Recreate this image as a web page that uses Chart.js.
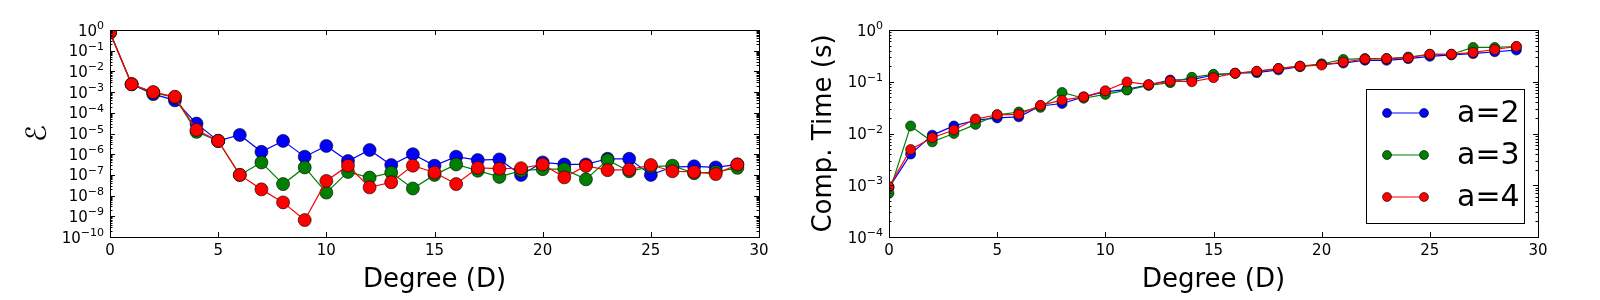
<!DOCTYPE html>
<html>
<head>
<meta charset="utf-8">
<script src="https://cdn.jsdelivr.net/npm/chart.js@4.4.0/dist/chart.umd.min.js"></script>
<style>
  html, body { margin: 0; padding: 0; background: #fff; }
  body { width: 1600px; height: 300px; position: relative; overflow: hidden; }
  .box { position: absolute; top: 0; height: 300px; }
  #left { left: 0; width: 780px; }
  #right { left: 780px; width: 820px; }
</style>
</head>
<body>
<div class="box" id="left"><canvas id="errChart"></canvas></div>
<div class="box" id="right"><canvas id="timeChart"></canvas></div>
<script>
// grau do polinômio (eixo x)
const degree = [0, 1, 2, 3, 4, 5, 6, 7, 8, 9, 10, 11, 12, 13, 14, 15, 16, 17, 18, 19, 20, 21, 22, 23, 24, 25, 26, 27, 28, 29];
const seriesNames = ['a=2', 'a=3', 'a=4'];
const seriesColors = ['#0000ff', '#008000', '#ff0000'];

// erro (gráfico da esquerda)
const errA2 = [0.77, 2.4e-3, 8e-4, 4e-4, 3e-5, 4.4e-6, 8.5e-6, 1.3e-6, 4.4e-6, 7.6e-7, 2.5e-6, 4.7e-7, 1.6e-6, 3e-7, 1.0e-6, 2.8e-7, 7.6e-7, 5.2e-7, 5.6e-7, 1.0e-7, 4e-7, 3.2e-7, 3.2e-7, 6e-7, 6e-7, 1.0e-7, 2.4e-7, 2.6e-7, 2.3e-7, 3.2e-7];
const errA3 = [0.75, 2.4e-3, 9.5e-4, 5.6e-4, 1.2e-5, 4.4e-6, 1e-7, 4e-7, 3.6e-8, 2.3e-7, 1.4e-8, 1.4e-7, 7.4e-8, 1.3e-7, 2.2e-8, 1.0e-7, 3.2e-7, 1.6e-7, 8e-8, 1.6e-7, 1.9e-7, 1.9e-7, 6.1e-8, 5.2e-7, 1.5e-7, 2.5e-7, 2.8e-7, 1.2e-7, 1.4e-7, 2.2e-7];
const errA4 = [0.77, 2.4e-3, 1.0e-3, 6e-4, 1.5e-5, 4.4e-6, 1e-7, 2e-8, 4.7e-9, 6.6e-10, 5.1e-8, 2.8e-7, 2.5e-8, 4.4e-8, 2.8e-7, 1.3e-7, 3.6e-8, 2.2e-7, 2e-7, 2.1e-7, 3.2e-7, 7.6e-8, 2.7e-7, 1.7e-7, 1.8e-7, 3e-7, 1.5e-7, 1.4e-7, 1.1e-7, 3.2e-7];

// tempo de computação (gráfico da direita)
const timeA2 = [9e-4, 4e-3, 9.3e-3, 1.4e-2, 1.8e-2, 2.0e-2, 2.1e-2, 3.4e-2, 3.8e-2, 5.1e-2, 6.4e-2, 7.1e-2, 8.7e-2, 0.108, 0.11, 0.135, 0.146, 0.15, 0.17, 0.195, 0.22, 0.23, 0.26, 0.26, 0.28, 0.31, 0.33, 0.35, 0.38, 0.41];
const timeA3 = [7e-4, 1.4e-2, 6.9e-3, 1e-2, 1.5e-2, 2.3e-2, 2.6e-2, 3.2e-2, 6.2e-2, 4.8e-2, 5.7e-2, 6.9e-2, 8.5e-2, 0.096, 0.122, 0.139, 0.146, 0.157, 0.18, 0.2, 0.22, 0.27, 0.28, 0.28, 0.3, 0.34, 0.34, 0.46, 0.46, 0.48];
const timeA4 = [9.4e-4, 4.9e-3, 8.3e-3, 1.17e-2, 1.9e-2, 2.3e-2, 2.35e-2, 3.5e-2, 4.4e-2, 5.1e-2, 6.7e-2, 0.099, 0.088, 0.103, 0.1, 0.12, 0.146, 0.16, 0.18, 0.2, 0.21, 0.24, 0.275, 0.28, 0.29, 0.34, 0.34, 0.37, 0.42, 0.48];

const xTicks = [0, 5, 10, 15, 20, 25, 30];

Chart.defaults.font.family = "'DejaVu Sans', sans-serif";
Chart.defaults.color = '#000';

function makeDatasets(values, radius) {
    return values.map((vals, i) => ({
        label: seriesNames[i],
        data: degree.map((d, j) => ({ x: d, y: vals[j] })),
        order: values.length - i,
        borderColor: seriesColors[i],
        backgroundColor: seriesColors[i],
        pointBackgroundColor: seriesColors[i],
        pointBorderColor: '#000',
        pointBorderWidth: 0.6,
        pointRadius: radius,
        borderWidth: 1.2,
        tension: 0
    }));
}

// moldura, marcas para dentro e rótulos 10^n, estilo matplotlib
const frameTicks = {
    id: 'frameTicks',
    afterDatasetsDraw(chart) {
        const { ctx, chartArea: a, scales } = chart;
        ctx.save();
        ctx.strokeStyle = '#000';
        ctx.lineWidth = 1;
        ctx.beginPath();
        xTicks.forEach(v => {
            const px = Math.round(scales.x.getPixelForValue(v)) + 0.5;
            ctx.moveTo(px, a.bottom); ctx.lineTo(px, a.bottom - 5);
            ctx.moveTo(px, a.top); ctx.lineTo(px, a.top + 5);
        });
        const lo = Math.round(Math.log10(scales.y.min));
        const hi = Math.round(Math.log10(scales.y.max));
        for (let e = lo; e <= hi; e++) {
            const py = Math.round(scales.y.getPixelForValue(Math.pow(10, e))) + 0.5;
            ctx.moveTo(a.left, py); ctx.lineTo(a.left + 5, py);
            ctx.moveTo(a.right, py); ctx.lineTo(a.right - 5, py);
            if (e === hi) continue;
            for (let k = 2; k <= 9; k++) {
                const my = Math.round(scales.y.getPixelForValue(k * Math.pow(10, e))) + 0.5;
                ctx.moveTo(a.left, my); ctx.lineTo(a.left + 2.5, my);
                ctx.moveTo(a.right, my); ctx.lineTo(a.right - 2.5, my);
            }
        }
        ctx.stroke();
        ctx.strokeRect(Math.round(a.left) + 0.5, Math.round(a.top) + 0.5, Math.round(a.right - a.left), Math.round(a.bottom - a.top));

        // rótulos do eixo y: base "10" e expoente menor, elevado
        ctx.fillStyle = '#000';
        ctx.textBaseline = 'alphabetic';
        ctx.textAlign = 'left';
        for (let e = lo; e <= hi; e++) {
            const py = scales.y.getPixelForValue(Math.pow(10, e));
            const expText = String(e).replace('-', '\u2212');
            ctx.font = "11px 'DejaVu Sans'";
            const ew = ctx.measureText(expText).width;
            ctx.font = "15px 'DejaVu Sans'";
            const bw = ctx.measureText('10').width;
            const right = a.left - 6;
            ctx.fillText('10', right - ew - bw, py + 5.5);
            ctx.font = "11px 'DejaVu Sans'";
            ctx.fillText(expText, right - ew, py - 1);
        }
        ctx.restore();
    }
};

// legenda com linha e dois marcadores
const markerLegend = {
    id: 'markerLegend',
    afterDraw(chart) {
        const { ctx } = chart;
        const bx = 586, by = 89, bw = 158, bh = 134;
        ctx.save();
        ctx.fillStyle = '#fff';
        ctx.fillRect(bx, by, bw, bh);
        ctx.strokeStyle = '#000';
        ctx.lineWidth = 1;
        ctx.strokeRect(bx + 0.5, by + 0.5, bw, bh);
        const rows = [113, 155, 197];
        chart.data.datasets.forEach((ds, i) => {
            const y = rows[i];
            ctx.strokeStyle = ds.borderColor;
            ctx.lineWidth = 1.2;
            ctx.beginPath();
            ctx.moveTo(607, y); ctx.lineTo(644, y);
            ctx.stroke();
            [607, 644].forEach(mx => {
                ctx.beginPath();
                ctx.arc(mx, y, 4.5, 0, Math.PI * 2);
                ctx.fillStyle = ds.borderColor;
                ctx.fill();
                ctx.strokeStyle = '#000';
                ctx.lineWidth = 0.6;
                ctx.stroke();
            });
            ctx.fillStyle = '#000';
            ctx.font = "30px 'DejaVu Sans'";
            ctx.textBaseline = 'middle';
            ctx.textAlign = 'left';
            ctx.fillText(ds.label, 677, y + 1);
        });
        ctx.restore();
    }
};

function makeOptions(yMin, yMax, yTitle, yTitleSize, yTitlePad, yWidth, rightPad) {
    return {
        responsive: true,
        maintainAspectRatio: false,
        animation: false,
        layout: { padding: { top: 30, right: rightPad, left: 0, bottom: 0 } },
        plugins: { legend: { display: false }, tooltip: { enabled: false } },
        scales: {
            x: {
                type: 'linear',
                min: 0,
                max: 30,
                afterBuildTicks: scale => { scale.ticks = xTicks.map(v => ({ value: v })); },
                afterFit: scale => { scale.height = 63; },
                grid: { display: false, drawTicks: false },
                border: { display: false },
                ticks: { font: { size: 15 }, padding: 5, maxRotation: 0, autoSkip: false },
                title: { display: true, text: 'Degree (D)', font: { size: 26 }, padding: { top: 0, bottom: 4 } }
            },
            y: {
                type: 'logarithmic',
                min: yMin,
                max: yMax,
                afterBuildTicks: scale => {
                    const t = [];
                    for (let e = Math.round(Math.log10(yMin)); e <= Math.round(Math.log10(yMax)); e++) t.push({ value: Math.pow(10, e) });
                    scale.ticks = t;
                },
                afterFit: scale => { scale.width = yWidth; },
                grid: { display: false, drawTicks: false },
                border: { display: false },
                ticks: { display: false },
                title: { display: true, text: yTitle, font: { size: yTitleSize }, padding: { top: yTitlePad, bottom: 0 } }
            }
        }
    };
}

const errCtx = document.getElementById('errChart').getContext('2d');
const errChart = new Chart(errCtx, {
    type: 'line',
    data: { datasets: makeDatasets([errA2, errA3, errA4], 6.5) },
    options: makeOptions(1e-10, 1, 'ℰ', 28, 22, 110, 21),
    plugins: [frameTicks]
});

const timeCtx = document.getElementById('timeChart').getContext('2d');
const timeChart = new Chart(timeCtx, {
    type: 'line',
    data: { datasets: makeDatasets([timeA2, timeA3, timeA4], 5) },
    options: makeOptions(1e-4, 1, 'Comp. Time (s)', 26, 29, 109, 62),
    plugins: [frameTicks, markerLegend]
});
</script>
</body>
</html>
